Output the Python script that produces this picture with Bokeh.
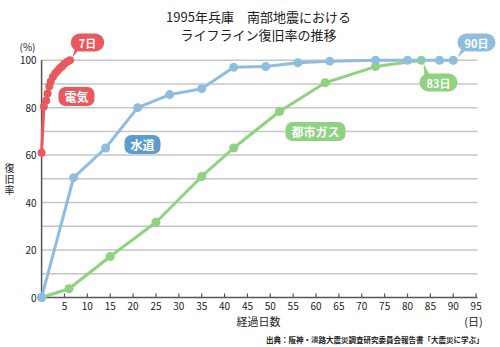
from bokeh.plotting import figure
from bokeh.models import Label, FixedTicker, Range1d
from bokeh.embed import file_html
from bokeh.resources import INLINE

# ---- data ----
elec_days = [0, 0.5, 1.0, 1.3, 1.7, 2.0, 2.5, 3.0, 3.5, 4.0, 4.5, 5.0, 5.6, 6.2]
elec_vals = [61, 80.5, 83, 86, 89, 91, 93, 94.5, 95.6, 96.6, 97.5, 98.5, 99.3, 100]
water_days = [0, 7, 14, 21, 28, 35, 42, 49, 56, 63, 73, 80, 87, 90]
water_vals = [0, 50.5, 63, 80, 85.5, 88, 97, 97.3, 98.9, 99.6, 100, 100, 100, 100]
gas_days = [0, 6, 15, 25, 35, 42, 52, 62, 73, 83]
gas_vals = [0, 3.7, 17.3, 31.7, 51, 63, 78.4, 90.5, 97.3, 100]
x_ticks = [5, 10, 15, 20, 25, 30, 35, 40, 45, 50, 55, 60, 65, 70, 75, 80, 85, 90, 95]
y_ticks = [0, 20, 40, 60, 80, 100]
grid_vals = [10, 20, 30, 40, 50, 60, 70, 80, 90, 100]
x_axis_end = 95.3

RED = "#e9585d"
BLUE = "#8fbde0"
BLUE_D = "#5b9dcc"
GREEN = "#8fd27f"
FONT = "Noto Sans CJK JP"

W, H = 500, 347
SX, SY = 4.574, 2.373          # pixels per day / per percent
OX, OY = 41.1, 297.0           # pixel position of the origin
x0, x1 = -OX / SX, (W - OX) / SX
y0, y1 = -(H - OY) / SY, OY / SY

p = figure(width=W, height=H, output_backend="svg", toolbar_location=None,
           x_range=Range1d(x0, x1), y_range=Range1d(y0, y1),
           min_border_left=0, min_border_right=0, min_border_top=0, min_border_bottom=0)
p.outline_line_color = None
p.xgrid.visible = False
p.ygrid.visible = False
p.background_fill_color = "white"

def px(xp, yp):
    return (x0 + xp / SX, y0 + (H - yp) / SY)

for ax in (p.xaxis[0], p.yaxis[0]):
    ax.fixed_location = 0
    ax.axis_line_color = None
    ax.major_tick_line_color = None
    ax.minor_tick_line_color = None
    ax.major_tick_in = 0
    ax.major_tick_out = 0
    ax.major_label_text_font = FONT
    ax.major_label_text_font_size = "10px"
    ax.major_label_text_color = "#222222"
p.xaxis.ticker = FixedTicker(ticks=x_ticks)
p.yaxis.ticker = FixedTicker(ticks=y_ticks)
p.xaxis.major_label_standoff = 4
p.yaxis.major_label_standoff = 5

# grid lines
p.segment(x0=[0] * len(grid_vals), y0=grid_vals, x1=[x_axis_end] * len(grid_vals), y1=grid_vals,
          line_color="#c6c6c6", line_width=1.5)
# axes
p.segment(x0=[0], y0=[0], x1=[0], y1=[100], line_color="#555555", line_width=1.5)
p.segment(x0=[0], y0=[0], x1=[x_axis_end], y1=[0], line_color="#555555", line_width=1.5)
p.segment(x0=x_ticks, y0=[0] * len(x_ticks), x1=x_ticks, y1=[1.7] * len(x_ticks),
          line_color="#555555", line_width=1.2)

# series
p.line(gas_days, gas_vals, line_color=GREEN, line_width=3)
p.scatter(gas_days, gas_vals, size=9, fill_color=GREEN, line_color=None)
p.line(water_days, water_vals, line_color=BLUE, line_width=3)
p.scatter(water_days, water_vals, size=9, fill_color=BLUE, line_color=None)
p.line(elec_days, elec_vals, line_color=RED, line_width=3)
p.scatter(elec_days, elec_vals, size=8, fill_color=RED, line_color=None)

# bubble tails
def tail(pts, color):
    xs, ys = zip(*[px(a, b) for a, b in pts])
    p.patch(list(xs), list(ys), fill_color=color, line_color=None)

def label(text, xp, yp, fill, size="12px", radius=7, pad=(6, 1)):
    x, y = px(xp, yp)
    p.add_layout(Label(x=x, y=y, text=text, text_font=FONT, text_font_size=size,
                       text_font_style="bold", text_color="white",
                       text_align="center", text_baseline="middle",
                       background_fill_color=fill, background_fill_alpha=1.0,
                       border_radius=radius, padding=pad))

tail([(72, 57), (75, 46), (80, 47)], RED)
tail([(457, 57), (462, 46), (467, 48)], BLUE)
tail([(423, 63), (424, 77), (430, 76)], GREEN)

label("電気", 76, 96, RED)
label("水道", 142, 144, BLUE_D)
label("都市ガス", 315, 131, GREEN)
label("7日", 87, 42, RED, size="11px", radius=9, pad=(8, 1))
label("90日", 476, 42, BLUE, size="11px", radius=9, pad=(7, 1))
label("83日", 438, 82, GREEN, size="11px", radius=9, pad=(7, 1))

def text(t, xp, yp, size="10px", align="center", bold=False, color="#222222"):
    x, y = px(xp, yp)
    p.add_layout(Label(x=x, y=y, text=t, text_font=FONT, text_font_size=size,
                       text_color=color, text_align=align, text_baseline="middle",
                       text_font_style="bold" if bold else "normal"))

text("1995年兵庫　南部地震における", 258, 16, size="13px")
text("ライフライン復旧率の推移", 258, 34, size="13px")
text("(%)", 27, 46, size="10px")
text("復", 9, 167, size="10px")
text("旧", 9, 178, size="10px")
text("率", 9, 189, size="10px")
text("経過日数", 258, 320, size="11px")
text("(日)", 473, 320, size="11px")
text("出典：阪神・淡路大震災調査研究委員会報告書「大震災に学ぶ」", 483, 339, size="7.5px", align="right", bold=True)

open("out.html", "w").write(file_html(p, INLINE))
